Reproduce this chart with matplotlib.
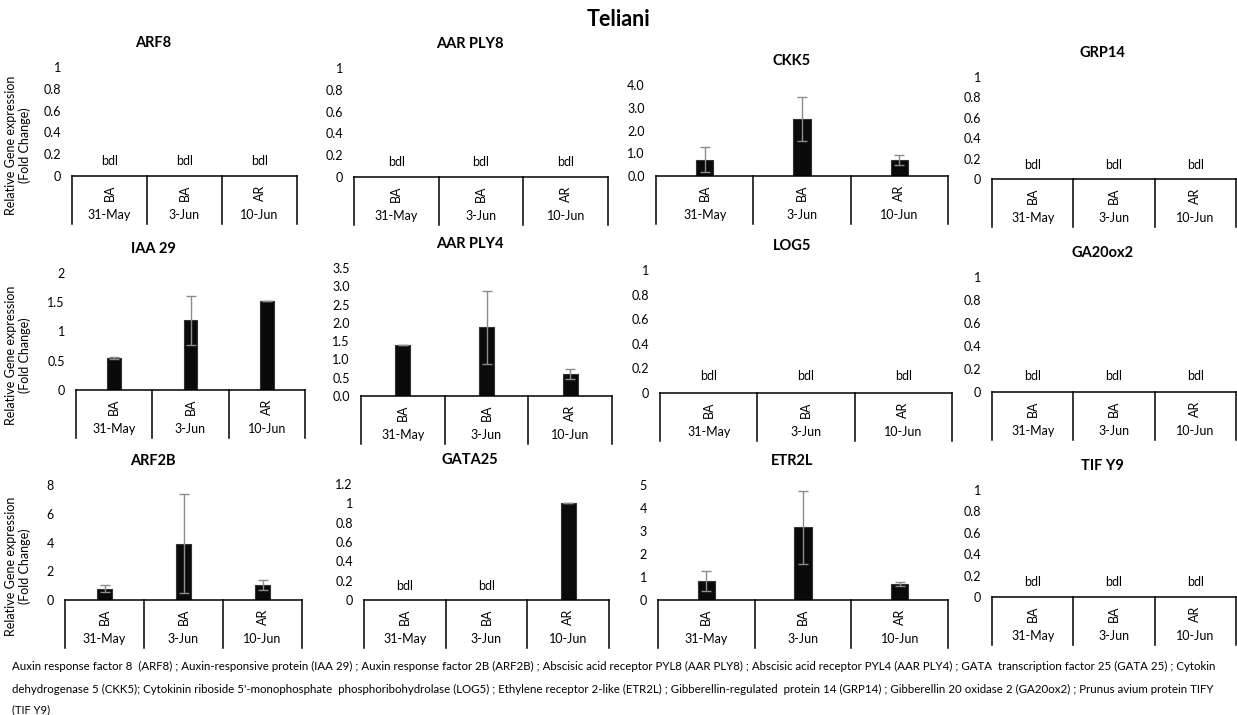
import numpy as np
import matplotlib.pyplot as plt

plt.rcParams['font.family'] = ['Lato', 'DejaVu Sans']

W, H = 1237, 715
nan = np.nan

# gene panels, row by row
genes = [['ARF8', 'AAR PLY8', 'CKK5', 'GRP14'],
         ['IAA 29', 'AAR PLY4', 'LOG5', 'GA20ox2'],
         ['ARF2B', 'GATA25', 'ETR2L', 'TIF Y9']]
stages = ['BA', 'BA', 'AR']
dates = ['31-May', '3-Jun', '10-Jun']

# fold change (nan = below detection limit) and error
expr = {
    'ARF8': [nan, nan, nan],
    'AAR PLY8': [nan, nan, nan],
    'CKK5': [0.72, 2.52, 0.72],
    'GRP14': [nan, nan, nan],
    'IAA 29': [0.55, 1.19, 1.52],
    'AAR PLY4': [1.39, 1.88, 0.60],
    'LOG5': [nan, nan, nan],
    'GA20ox2': [nan, nan, nan],
    'ARF2B': [0.79, 3.92, 1.04],
    'GATA25': [nan, nan, 1.0],
    'ETR2L': [0.83, 3.16, 0.70],
    'TIF Y9': [nan, nan, nan],
}
err = {
    'CKK5': [0.56, 0.97, 0.22],
    'IAA 29': [0.02, 0.42, 0.0],
    'AAR PLY4': [0.0, 1.0, 0.14],
    'ARF2B': [0.25, 3.45, 0.35],
    'GATA25': [0.0, 0.0, 0.0],
    'ETR2L': [0.44, 1.60, 0.08],
}
# y axis: (max, step, label format)
yaxis = {
    'CKK5': (4.0, 1.0, '{:.1f}'),
    'IAA 29': (2.0, 0.5, '{:g}'),
    'AAR PLY4': (3.5, 0.5, '{:.1f}'),
    'ARF2B': (8, 2, '{:g}'),
    'GATA25': (1.2, 0.2, '{:g}'),
    'ETR2L': (5, 1, '{:g}'),
}
default_yaxis = (1.0, 0.2, '{:g}')

# plot area in pixels: left, right, zero line, top
boxes = [[(72, 297, 176, 67), (354, 608, 177, 68), (656, 948, 176, 85), (992, 1236, 179, 77)],
         [(76, 305, 390, 273), (361, 612, 396, 268), (660, 952, 393, 270), (992, 1236, 392, 277)],
         [(65, 302, 600, 485), (364, 609, 600, 484), (658, 948, 600, 485), (992, 1236, 597, 490)]]
title_x = [153, 470, 792, 1102]
box_depth = 48

fig = plt.figure(figsize=(W / 100, H / 100), dpi=100)
fig.text(618 / W, 1 - 20 / H, 'Teliani', ha='center', va='center',
         fontsize=15.5, fontweight='bold')

for r, row in enumerate(genes):
    for c, gene in enumerate(row):
        left, right, zero, top = boxes[r][c]
        ax = fig.add_axes([left / W, 1 - zero / H, (right - left) / W, (zero - top) / H])
        ymax, step, fmt = yaxis.get(gene, default_yaxis)
        ticks = np.arange(0, ymax + step / 2, step)
        ax.set_ylim(0, ymax)
        ax.set_yticks(ticks)
        ax.set_yticklabels([fmt.format(t) for t in ticks])
        ax.set_xlim(0, 3)
        ax.set_xticks([])
        ax.tick_params(axis='y', length=0, pad=8, labelsize=9)
        for s in ['top', 'right', 'left']:
            ax.spines[s].set_visible(False)
        ax.spines['bottom'].set_linewidth(1.1)

        x = np.arange(3) + 0.5
        vals = np.array(expr[gene])
        ok = ~np.isnan(vals)
        if ok.any():
            e = np.array(err.get(gene, [0, 0, 0]))
            ax.bar(x[ok], vals[ok], width=0.18, color='#0a0a0a', edgecolor='#333333', linewidth=0.8)
            ax.errorbar(x[ok], vals[ok], yerr=e[ok], fmt='none', ecolor='#8c8c8c',
                        elinewidth=1, capsize=3.5, capthick=1)
        for xi, v in zip(x, vals):
            if np.isnan(v):
                ax.text(xi, 0.14, 'bdl', ha='center', va='center', fontsize=9)

        # two-level category axis below the zero line
        h = zero - top
        for xb in [0, 1, 2, 3]:
            ax.plot([xb, xb], [0, -box_depth / h], transform=ax.get_xaxis_transform(),
                    color='black', lw=1.1, clip_on=False)
        for xi, st, dt in zip(x, stages, dates):
            ax.text(xi, -17 / h, st, transform=ax.get_xaxis_transform(),
                    ha='center', va='center', rotation=90, fontsize=9)
            ax.text(xi, -39 / h, dt, transform=ax.get_xaxis_transform(),
                    ha='center', va='center', fontsize=9)

        fig.text(title_x[c] / W, 1 - (top - 24) / H, gene, ha='center', va='center',
                 fontsize=10.5, fontweight='bold')
        if c == 0:
            fig.text(18 / W, 1 - ((top + zero + box_depth) / 2) / H,
                     'Relative Gene expression\n(Fold Change)', ha='center', va='center',
                     rotation=90, fontsize=9, linespacing=1.05)

footer = [
    "Auxin response factor 8  (ARF8) ; Auxin-responsive protein (IAA 29) ; Auxin response factor 2B (ARF2B) ; "
    "Abscisic acid receptor PYL8 (AAR PLY8) ; Abscisic acid receptor PYL4 (AAR PLY4) ; "
    "GATA  transcription factor 25 (GATA 25) ; Cytokin",
    "dehydrogenase 5 (CKK5); Cytokinin riboside 5'-monophosphate  phosphoribohydrolase (LOG5) ; "
    "Ethylene receptor 2-like (ETR2L) ; Gibberellin-regulated  protein 14 (GRP14) ; "
    "Gibberellin 20 oxidase 2 (GA20ox2) ; Prunus avium protein TIFY",
    "(TIF Y9)",
]
footer_y = [666, 689, 710]
footer_w = [1212, 1210, None]

renderer = fig.canvas.get_renderer()
for line, fy, fw in zip(footer, footer_y, footer_w):
    t = fig.text(12 / W, 1 - fy / H, line, ha='left', va='center', fontsize=8)
    if fw:
        w = t.get_window_extent(renderer).width
        t.set_fontsize(min(8 * fw / w, 9.5))

fig.savefig('out.png', dpi=100)
